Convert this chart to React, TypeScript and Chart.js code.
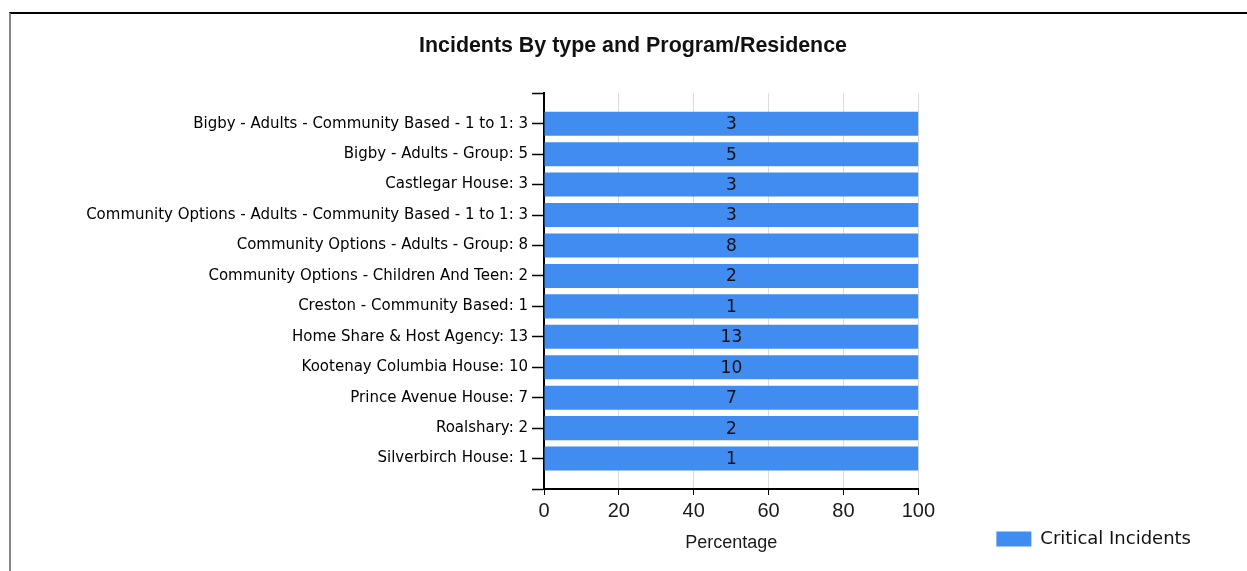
import React, { useEffect, useRef } from 'react';
import { Chart, registerables } from 'chart.js';

Chart.register(...registerables);

const chartTitle = 'Incidents By type and Program/Residence';
const xAxisTitle = 'Percentage';
const seriesLabel = 'Critical Incidents';

const programs = [
  'Bigby - Adults - Community Based - 1 to 1',
  'Bigby - Adults - Group',
  'Castlegar House',
  'Community Options - Adults - Community Based - 1 to 1',
  'Community Options - Adults - Group',
  'Community Options - Children And Teen',
  'Creston - Community Based',
  'Home Share & Host Agency',
  'Kootenay Columbia House',
  'Prince Avenue House',
  'Roalshary',
  'Silverbirch House',
];

const criticalIncidents = [3, 5, 3, 3, 8, 2, 1, 13, 10, 7, 2, 1];

const xTickMin = 0;
const xTickMax = 100;
const xTickStep = 20;

export default function App() {
  const canvasRef = useRef<HTMLCanvasElement>(null);

  useEffect(() => {
    if (!canvasRef.current) return;

    const allSeries = [criticalIncidents];
    const totals = programs.map((_, i) => allSeries.reduce((s, arr) => s + arr[i], 0));
    const percentages = criticalIncidents.map((c, i) => (c / totals[i]) * 100);

    const categoryLabels = ['', ...programs.map((p, i) => `${p}: ${criticalIncidents[i]}`), ''];
    const barData: (number | null)[] = [null, ...percentages, null];

    const valueLabels = {
      id: 'valueLabels',
      afterDatasetsDraw(chart: any) {
        const { ctx } = chart;
        const meta = chart.getDatasetMeta(0);
        ctx.save();
        ctx.font = '17px "DejaVu Sans"';
        ctx.fillStyle = '#111';
        ctx.textAlign = 'center';
        ctx.textBaseline = 'middle';
        meta.data.forEach((bar: any, i: number) => {
          if (barData[i] == null) return;
          const count = criticalIncidents[i - 1];
          ctx.fillText(String(count), (bar.x + bar.base) / 2, bar.y + 1);
        });
        ctx.restore();
      },
    };

    const chart = new Chart(canvasRef.current, {
      type: 'bar',
      data: {
        labels: categoryLabels,
        datasets: [
          {
            label: seriesLabel,
            data: barData,
            backgroundColor: '#418CF0',
            borderWidth: 0,
            barPercentage: 0.79,
            categoryPercentage: 1,
          },
        ],
      },
      options: {
        indexAxis: 'y',
        responsive: false,
        animation: false,
        layout: { padding: { left: 54, right: 46, top: 0, bottom: 0 } },
        plugins: {
          title: {
            display: true,
            text: chartTitle,
            color: '#111',
            font: { family: '"Liberation Sans", Arial, sans-serif', size: 21.4, weight: 'bold' },
            padding: { top: 19.4, bottom: 34.2 },
          },
          legend: {
            position: 'right',
            align: 'end',
            labels: {
              boxWidth: 35,
              boxHeight: 15,
              padding: 78,
              color: '#111',
              font: { family: '"DejaVu Sans", sans-serif', size: 18 },
            },
          },
          tooltip: { enabled: false },
        },
        scales: {
          x: {
            type: 'linear',
            min: xTickMin,
            max: xTickMax,
            ticks: {
              stepSize: xTickStep,
              color: '#1a1a1a',
              padding: 4,
              font: { family: '"Liberation Sans", Arial, sans-serif', size: 20 },
            },
            grid: {
              color: '#dcdcdc',
              tickColor: '#000',
              tickLength: 6,
              tickWidth: 1,
            },
            border: { color: '#000', width: 2 },
            title: {
              display: true,
              text: xAxisTitle,
              color: '#1a1a1a',
              font: { family: '"Liberation Sans", Arial, sans-serif', size: 18 },
              padding: { top: 0, bottom: 72 },
            },
            afterFit: (scale: any) => {
              scale.height = 137;
            },
          },
          y: {
            type: 'category',
            offset: false,
            ticks: {
              autoSkip: false,
              color: '#000',
              padding: 4,
              font: { family: '"DejaVu Sans", sans-serif', size: 15 },
            },
            grid: {
              offset: false,
              drawOnChartArea: false,
              tickColor: '#000',
              tickLength: 12,
              tickWidth: 1.5,
            },
            border: { color: '#000', width: 2 },
            afterFit: (scale: any) => {
              scale.width = 479;
            },
          },
        },
      },
      plugins: [valueLabels],
    } as any);

    return () => chart.destroy();
  }, []);

  return (
    <div
      style={{
        position: 'fixed',
        left: 9,
        top: 12,
        width: 1238,
        height: 559,
        borderTop: '2px solid #000',
        borderLeft: '2px solid #888',
        overflow: 'hidden',
        background: '#fff',
      }}
    >
      <canvas ref={canvasRef} width={1236} height={612} style={{ display: 'block' }} />
    </div>
  );
}
